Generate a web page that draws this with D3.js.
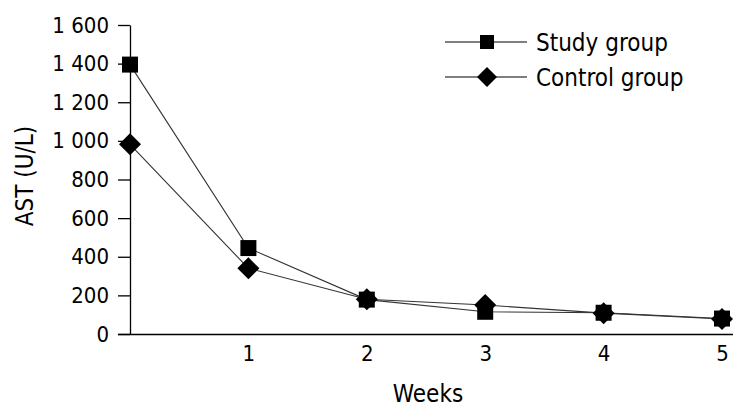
<!DOCTYPE html>
<html><head><meta charset="utf-8">
<script src="https://cdn.jsdelivr.net/npm/d3@7"></script>
<style>body{margin:0;background:#fff}svg{display:block}text{font-family:"DejaVu Sans Condensed","DejaVu Sans",Verdana,sans-serif;font-stretch:condensed;fill:#000}</style>
</head><body>
<svg id="c" width="746" height="418"></svg>
<script>
const weeks = [0, 1, 2, 3, 4, 5];
const weekTicks = [1, 2, 3, 4, 5];
const studyGroup = [1395, 445, 178, 115, 110, 80];
const controlGroup = [982, 340, 180, 150, 108, 78];
const yTicks = [0, 200, 400, 600, 800, 1000, 1200, 1400, 1600];
const seriesNames = ["Study group", "Control group"];

const svg = d3.select("#c");
const x = d3.scaleLinear().domain([0, 5]).range([130, 722]);
const y = d3.scaleLinear().domain([0, 1600]).range([334, 25]);
const fmt = v => v >= 1000 ? Math.floor(v / 1000) + " " + String(v % 1000).padStart(3, "0") : String(v);
const FS = "22px", FT = "24px";

// Y axis
const ya = svg.append("g").attr("transform", "translate(130,0)")
  .call(d3.axisLeft(y).tickValues(yTicks).tickSize(12).tickPadding(9).tickFormat(fmt).tickSizeOuter(0));
ya.select(".domain").attr("stroke", "#000").attr("stroke-width", 1.3);
ya.selectAll(".tick line").attr("stroke", "#000").attr("stroke-width", 1.3);
ya.selectAll(".tick text").style("font-size", FS).attr("fill", "#000");

// X axis
const xa = svg.append("g").attr("transform", "translate(0,334)")
  .call(d3.axisBottom(x).tickValues(weekTicks).tickSize(0).tickFormat(d3.format("d")).tickSizeOuter(0));
xa.select(".domain").attr("d", "M118,0.5H733").attr("stroke", "#000").attr("stroke-width", 1.3);
xa.selectAll(".tick text").style("font-size", FS).attr("fill", "#000").attr("y", 27).attr("dy", 0);

// Axis titles
svg.append("text").attr("x", 428).attr("y", 402).attr("text-anchor", "middle").style("font-size", FT).text("Weeks");
svg.append("text").attr("transform", "translate(33,176) rotate(-90)").attr("text-anchor", "middle").style("font-size", FT).text("AST (U/L)");

const line = d3.line().x((d, i) => x(weeks[i])).y(d => y(d));
const sq = d3.symbol().type(d3.symbolSquare).size(256);
const dm = d3.symbol().type(d3.symbolSquare).size(242);

[controlGroup, studyGroup].forEach(s => {
  svg.append("path").attr("d", line(s)).attr("fill", "none").attr("stroke", "#333").attr("stroke-width", 1.1);
});
svg.selectAll(".ms").data(studyGroup).join("path")
  .attr("transform", (d, i) => `translate(${x(weeks[i])},${y(d)})`).attr("d", sq).attr("fill", "#000");
svg.selectAll(".mc").data(controlGroup).join("path")
  .attr("transform", (d, i) => `translate(${x(weeks[i])},${y(d)}) rotate(45)`).attr("d", dm).attr("fill", "#000");

// Legend
const lg = svg.append("g");
[0, 1].forEach(i => {
  const yy = 42 + i * 35;
  lg.append("line").attr("x1", 445).attr("x2", 527).attr("y1", yy).attr("y2", yy).attr("stroke", "#000").attr("stroke-width", 1.1);
  lg.append("path").attr("transform", `translate(487,${yy})` + (i ? " rotate(45)" : ""))
    .attr("d", d3.symbol().type(d3.symbolSquare).size(i ? 200 : 196)()).attr("fill", "#000");
  lg.append("text").attr("x", 536).attr("y", yy + 9).style("font-size", FT).text(seriesNames[i]);
});
</script>
</body></html>
